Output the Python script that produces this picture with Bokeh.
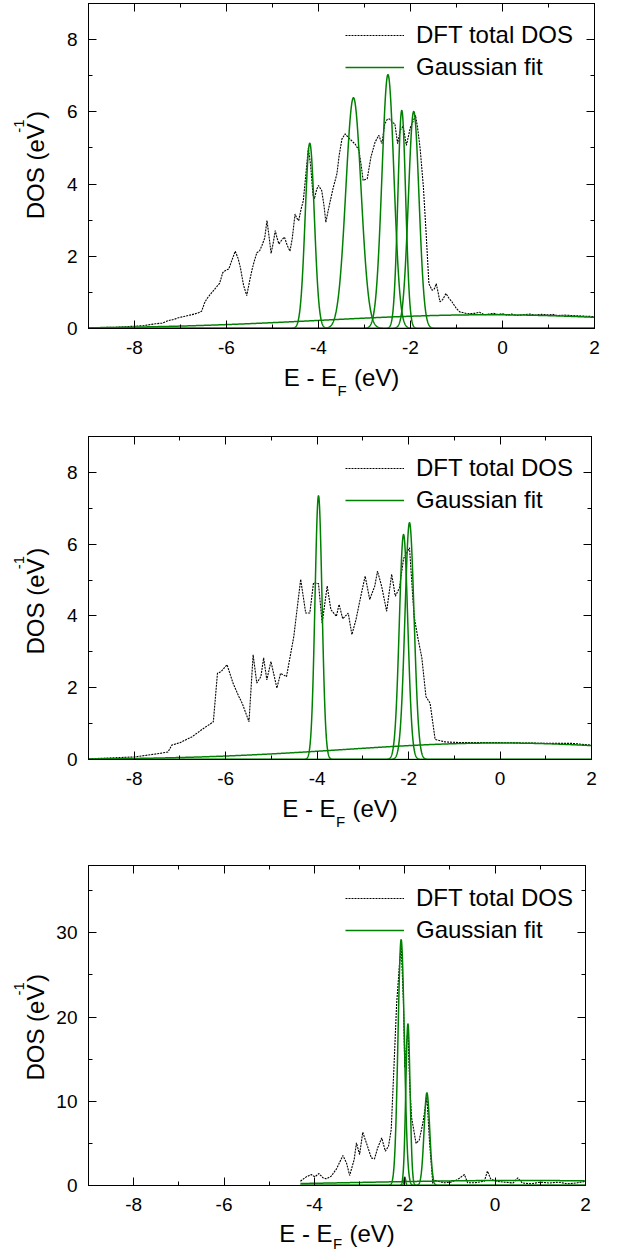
import numpy as np
from bokeh.plotting import figure
from bokeh.layouts import column, row
from bokeh.models import (Range1d, SingleIntervalTicker, LinearAxis, Legend,
                          LegendItem, CustomJSTickFormatter)
from bokeh.core.properties import value
from bokeh.embed import file_html
from bokeh.resources import INLINE

FONT = "Liberation Sans"
GREEN = "#008000"

# ---------------- Panel 1 : DFT total DOS ----------------
dft1_e = [-9.0, -8.6, -8.3, -8.06, -7.8, -7.55, -7.4, -7.26, -7.15, -7.04, -6.93, -6.83, -6.7,
          -6.6, -6.54, -6.48, -6.43, -6.35, -6.25, -6.15, -6.08, -6.03, -5.95, -5.88, -5.81,
          -5.75, -5.70, -5.63, -5.56, -5.50, -5.45, -5.40, -5.34, -5.28, -5.23, -5.17, -5.12,
          -5.08, -5.03, -4.98, -4.94, -4.90, -4.86, -4.80, -4.74, -4.68, -4.62, -4.57, -4.51,
          -4.47, -4.43, -4.38, -4.33, -4.28, -4.22, -4.17, -4.12, -4.09, -4.04, -4.0, -3.93,
          -3.88, -3.84, -3.80, -3.75, -3.68, -3.6, -3.55, -3.49, -3.42, -3.36, -3.28, -3.2,
          -3.12, -3.07, -3.03, -2.94, -2.86, -2.77, -2.69, -2.62, -2.56, -2.5, -2.45, -2.39,
          -2.34, -2.28, -2.22, -2.16, -2.09, -2.0, -1.94, -1.89, -1.84, -1.79, -1.72, -1.66,
          -1.6, -1.53, -1.48, -1.44, -1.4, -1.36, -1.3, -1.23, -1.17, -1.1, -1.0, -0.93, -0.76,
          -0.6, -0.5, -0.4, -0.3, -0.2, -0.1, 0.0, 0.1, 0.2, 0.3, 0.45, 0.6, 0.7, 0.85, 1.0,
          1.1, 1.2, 1.35, 1.5, 1.65, 1.8, 2.0]
dft1_dos = [0.02, 0.03, 0.04, 0.06, 0.08, 0.13, 0.15, 0.22, 0.25, 0.30, 0.33, 0.36, 0.40,
            0.44, 0.48, 0.70, 0.82, 0.95, 1.10, 1.25, 1.55, 1.60, 1.65, 1.90, 2.14,
            1.95, 1.70, 1.20, 0.91, 1.30, 1.60, 1.85, 2.10, 2.15, 2.30, 2.50, 2.99,
            2.60, 2.08, 2.40, 2.71, 2.50, 2.34, 2.45, 2.53, 2.30, 2.14, 2.50, 3.17,
            3.05, 2.99, 3.30, 3.54, 4.20, 5.00, 4.50, 3.70, 3.59, 3.85, 3.96, 3.82,
            3.40, 2.94, 3.20, 3.50, 3.90, 4.28, 4.80, 5.25, 5.39, 5.30, 5.20, 5.10,
            4.93, 4.50, 4.10, 4.15, 4.75, 5.16, 5.35, 5.12, 5.67, 5.80, 5.80, 5.70,
            5.67, 5.12, 5.50, 5.60, 5.07, 5.58, 5.75, 5.90, 5.50, 4.98, 3.92, 2.63,
            1.24, 1.06, 1.10, 1.24, 1.00, 0.74, 0.80, 0.97, 0.85, 0.74, 0.55, 0.46, 0.41,
            0.42, 0.45, 0.38, 0.40, 0.42, 0.39, 0.41, 0.37, 0.40, 0.36, 0.38, 0.40, 0.37, 0.39,
            0.38, 0.39, 0.36, 0.37, 0.36, 0.35, 0.34, 0.33]
# Gaussian fit components (centre eV, height eV^-1, sigma eV)
fit1_center = [-4.19, -3.24, -2.49, -2.19, -1.93, -0.3]
fit1_height = [5.13, 6.39, 7.03, 6.04, 6.01, 0.38]
fit1_sigma = [0.10, 0.165, 0.13, 0.085, 0.115, 3.6]

# ---------------- Panel 2 ----------------
dft2_e = [-9.0, -8.0, -7.44, -7.26, -7.18, -7.0, -6.74, -6.48, -6.27, -6.18, -6.1, -5.97,
          -5.84, -5.71, -5.64, -5.49, -5.4, -5.32, -5.23, -5.17, -5.1, -5.01, -4.88, -4.8,
          -4.67, -4.51, -4.36, -4.25, -4.16, -4.08, -3.97, -3.89, -3.78, -3.7, -3.58, -3.52,
          -3.44, -3.32, -3.24, -3.15, -3.06, -2.95, -2.85, -2.74, -2.68, -2.59, -2.48, -2.37,
          -2.29, -2.2, -2.11, -1.98, -1.88, -1.79, -1.71, -1.62, -1.53, -1.42, -1.2, -0.86,
          0.0, 1.05, 1.57, 2.0]
dft2_dos = [0.02, 0.07, 0.17, 0.21, 0.40, 0.47, 0.63, 0.87, 1.05, 2.40, 2.45, 2.64,
            2.13, 1.75, 1.57, 1.05, 2.92, 2.13, 2.31, 2.83, 2.22, 2.73, 1.99, 2.40,
            2.31, 3.43, 5.02, 4.08, 4.08, 4.92, 4.90, 3.80, 4.83, 4.18, 3.99, 4.32,
            3.92, 4.08, 3.48, 3.90, 4.46, 5.11, 4.46, 4.83, 5.25, 4.83, 4.13, 5.16,
            4.55, 4.78, 5.60, 5.90, 3.99, 3.34, 2.83, 1.75, 1.57, 0.56, 0.49, 0.47,
            0.47, 0.45, 0.45, 0.40]
fit2_center = [-3.97, -2.11, -1.98, 0.0]
fit2_height = [7.35, 6.27, 6.60, 0.46]
fit2_sigma = [0.077, 0.093, 0.10, 3.4]

# ---------------- Panel 3 ----------------
dft3_e = [-4.31, -4.18, -4.07, -3.99, -3.9, -3.81, -3.74, -3.63, -3.51, -3.37, -3.29, -3.22,
          -3.12, -3.07, -3.0, -2.93, -2.85, -2.74, -2.67, -2.6, -2.51, -2.43, -2.36, -2.3,
          -2.24, -2.18, -2.12, -2.08, -2.03, -2.0, -1.96, -1.93, -1.89, -1.85, -1.75, -1.68,
          -1.6, -1.51, -1.45, -1.38, -1.35, -1.12, -0.98, -0.83, -0.68, -0.61, -0.46, -0.24,
          -0.17, -0.1, 0.01, 0.2, 0.4, 0.5, 0.6, 0.8, 1.0, 1.2, 1.4, 1.6, 1.8, 2.0]
dft3_dos = [0.51, 1.03, 1.30, 1.03, 1.42, 0.91, 0.79, 1.10, 1.98, 3.56, 2.69, 1.19,
            3.08, 5.06, 3.68, 6.32, 5.06, 3.28, 3.16, 4.47, 5.65, 4.07, 4.66, 6.64,
            14.0, 21.6, 26.0, 28.5, 22.0, 14.0, 17.0, 18.5, 12.0, 8.1, 5.0, 5.4,
            7.4, 10.5, 5.0, 0.24, 0.60, 0.32, 0.40, 0.71, 1.30, 0.32, 0.32, 0.50,
            1.70, 0.79, 0.51, 0.40, 0.30, 0.90, 0.30, 0.20, 0.40, 0.30, 0.40, 0.20, 0.30, 0.50]
fit3_center = [-2.08, -1.93, -1.51, -2.0, 0.5]
fit3_height = [29.2, 19.2, 11.0, 1.0, 0.6]
fit3_sigma = [0.07, 0.047, 0.062, 0.02, 3.5]

legend_labels = ["DFT total DOS", "Gaussian fit"]
x_label_parts = ["E - E", "F", "(eV)"]
y_label_parts = ["DOS (eV", "-1", ")"]

YLAB_W = 50      # width of the strip holding the y label
MB_LEFT = 38     # tick-label border of the main figure
MB_RIGHT = 10
MB_BOT = 35
FS, SS = 24, 15  # main / sub-superscript font sizes (px)
BL_FIX = 10.5 / 24.0   # empirical baseline correction (fraction of font size)
ROT_FIX = 23           # empirical along-text correction for rotated text (px)


def adv(s, size):
    w = {"E": 667, " ": 278, "-": 333, "(": 333, ")": 333, "e": 556, "V": 667, "F": 611,
         "D": 722, "O": 778, "S": 667, "1": 556}
    return sum(w[c] for c in s) * size / 1000.0


def style_axis(ax, interval, standoff, show_labels=True):
    ax.ticker = SingleIntervalTicker(interval=interval, num_minor_ticks=2)
    ax.major_tick_in = 8
    ax.major_tick_out = 0
    ax.minor_tick_in = 4
    ax.minor_tick_out = 0
    ax.axis_line_color = "black"
    ax.major_tick_line_color = "black"
    ax.minor_tick_line_color = "black"
    ax.major_label_text_font = FONT
    ax.major_label_text_color = "black"
    if show_labels:
        ax.formatter = CustomJSTickFormatter(code="return Math.round(tick).toString()")
        ax.major_label_text_font_size = "19px"
        ax.major_label_standoff = standoff
    else:
        ax.formatter = CustomJSTickFormatter(code="return ''")
        ax.major_label_text_font_size = "1px"
        ax.major_label_standoff = 0


def blank_fig(w, h):
    f = figure(width=w, height=h, x_range=Range1d(0, w), y_range=Range1d(0, h),
               min_border=0, x_axis_type=None, y_axis_type=None,
               output_backend="svg", toolbar_location=None)
    f.xgrid.visible = False
    f.ygrid.visible = False
    f.outline_line_color = None
    return f


def panel(e, dos, centers, heights, sigmas, e_start, ymax, yint, fw, fh, mb_top,
          leg_top, ylab_above, xlab_h, xlab_below, sub_drop):
    main_w = MB_LEFT + fw + MB_RIGHT
    main_h = mb_top + fh + MB_BOT
    p = figure(width=main_w, height=main_h,
               min_border_left=MB_LEFT, min_border_right=MB_RIGHT,
               min_border_top=mb_top, min_border_bottom=MB_BOT,
               x_range=Range1d(-9, 2), y_range=Range1d(0, ymax),
               output_backend="svg", toolbar_location=None)
    p.xgrid.visible = False
    p.ygrid.visible = False
    p.outline_line_color = "black"
    p.outline_line_width = 1
    p.outline_line_alpha = 1
    style_axis(p.xaxis[0], 2, 12)
    style_axis(p.yaxis[0], yint, 11)
    top = LinearAxis()
    style_axis(top, 2, 0, show_labels=False)
    p.add_layout(top, "above")
    right = LinearAxis()
    style_axis(right, yint, 0, show_labels=False)
    p.add_layout(right, "right")

    r_dft = p.line(e, dos, line_color="black", line_width=1.1, line_dash="2 1")
    grid = np.linspace(e_start, 2.0, 3000)
    g_renderers = []
    for c, h, s in zip(centers, heights, sigmas):
        yv = h * np.exp(-0.5 * ((grid - c) / s) ** 2)
        g_renderers.append(p.line(grid, yv, line_color=GREEN, line_width=1.5))

    legend = Legend(items=[LegendItem(label=legend_labels[0], renderers=[r_dft]),
                           LegendItem(label=legend_labels[1], renderers=[g_renderers[0]])],
                    location=(257, fh - leg_top - 60),
                    padding=0, margin=0, spacing=4,
                    glyph_width=59, glyph_height=28, label_height=28,
                    label_standoff=12,
                    label_text_font=FONT, label_text_font_size="24px",
                    label_text_color="black",
                    border_line_color=None, background_fill_alpha=0)
    p.add_layout(legend)

    # ---- y label strip (left of the main figure) ----
    yl = blank_fig(YLAB_W, main_h)
    base_x = 45
    start_down = mb_top + fh - ylab_above          # distance from strip top
    s0 = main_h - start_down - ROT_FIX             # in y-up pixel coords
    wm = adv(y_label_parts[0], FS)
    wsup = adv(y_label_parts[1], SS)
    for txt, xx, yy, sz in [(y_label_parts[0], base_x - BL_FIX * FS, s0, FS),
                            (y_label_parts[1], base_x - 20 - BL_FIX * SS, s0 + wm + 0.5, SS),
                            (y_label_parts[2], base_x - BL_FIX * FS, s0 + wm + wsup + 2.5, FS)]:
        yl.text(x=[xx], y=[yy], text=[txt], angle=np.pi / 2,
                text_font=value(FONT), text_font_size=value(f"{sz}px"),
                text_color="black", text_align="left", text_baseline="alphabetic")

    # ---- x label strip (below the main figure) ----
    row_w = YLAB_W + main_w
    xl = blank_fig(row_w, xlab_h)
    center = YLAB_W + MB_LEFT + fw / 2.0
    w1 = adv(x_label_parts[0], FS)
    wf = adv(x_label_parts[1], SS)
    wsp = adv(" ", FS)
    w2 = adv(x_label_parts[2], FS)
    total = w1 + wf + 1 + wsp + w2
    x0 = center - total / 2.0
    base_down = xlab_below - MB_BOT
    for txt, xx, dd, sz in [(x_label_parts[0], x0, base_down, FS),
                            (x_label_parts[1], x0 + w1 + 0.5, base_down + sub_drop, SS),
                            (x_label_parts[2], x0 + w1 + wf + 1 + wsp, base_down, FS)]:
        xl.text(x=[xx], y=[xlab_h - dd + BL_FIX * sz], text=[txt],
                text_font=value(FONT), text_font_size=value(f"{sz}px"),
                text_color="black", text_align="left", text_baseline="alphabetic")

    return column(row(yl, p, spacing=0), xl, spacing=0)


# panel frames: 1 -> y 3..328, 2 -> y 436..759, 3 -> y 865..1185
blk1 = panel(dft1_e, dft1_dos, fit1_center, fit1_height, fit1_sigma, -9.0, 9, 2,
             506, 325, 3, 18, 110, 65, 59, 10)
blk2 = panel(dft2_e, dft2_dos, fit2_center, fit2_height, fit2_sigma, -9.0, 9, 2,
             503, 323, 8, 18, 107, 63, 59, 10)
blk3 = panel(dft3_e, dft3_dos, fit3_center, fit3_height, fit3_sigma, -4.31, 38, 10,
             497, 320, 8, 19, 107, 33, 58, 7)

layout = column(blk1, blk2, blk3, spacing=0)
open("out.html", "w").write(file_html(layout, INLINE))
